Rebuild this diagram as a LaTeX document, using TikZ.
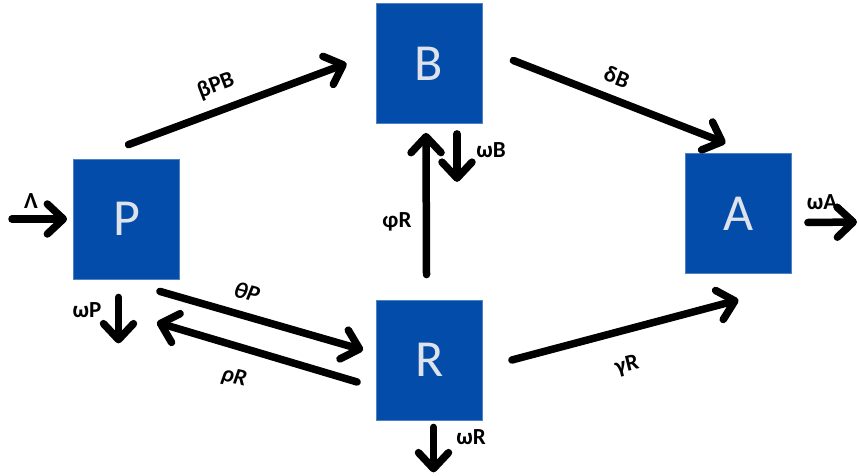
\documentclass[tikz,border=0pt]{standalone}
\usepackage{fontspec}
\setmainfont{Carlito}
\usetikzlibrary{arrows.meta,calc}
\definecolor{boxblue}{RGB}{4,76,170}
\definecolor{boxtext}{RGB}{222,226,234}
\tikzset{
  compartment/.style={rectangle, fill=boxblue, draw=boxblue!70!white, line width=0.8pt,
    minimum width=106pt, minimum height=120pt, inner sep=0pt,
    text=boxtext, font=\fontsize{52}{52}\selectfont},
  flow/.style={line width=7.5pt, line cap=round,
    -{Straight Barb[round, length=16pt, width=30pt]}},
  rate/.style={inner sep=0pt, font=\bfseries\fontsize{23}{23}\selectfont},
}
\begin{document}
\begin{tikzpicture}[x=1pt, y=-1pt]
  \useasboundingbox (0,0) rectangle (859,476);

  % compartments
  \node[compartment] (P) at (126.5,219) {P};
  \node[compartment] (B) at (429,63.5) {B};
  \node[compartment] (R) at (429.5,360) {R};
  \node[compartment] (A) at (738.5,213.5) {A};

  % inflow and outflow end points
  \coordinate (in) at (12,219);
  \coordinate (outA) at (857,222);

  % transfers between compartments
  \draw[flow] (in) -- ($(P.west)+(-6,0)$);
  \draw[flow] ($(P.north)+(2,-14)$) -- ($(B.west)+(-29,0)$);
  \draw[flow] ($(B.east)+(31,-3)$) -- ($(A.north)+(-13,-10)$);
  \draw[flow] ($(A.east)+(16,9)$) -- (outA);
  \draw[flow] ($(P.south east)+(-20,12)$) -- ($(R.west)+(-13,-10)$);
  \draw[flow] ($(R.west)+(-19,22)$) -- ($(P.south east)+(-23,43)$);
  \draw[flow] ($(P.south)+(-8,18)$) -- ($(P.south)+(-8,64)$);
  \draw[flow] ($(R.north)+(-3,-25)$) -- ($(B.south)+(-3,9)$);
  \draw[flow] ($(B.south)+(28,10)$) -- ($(B.south)+(28,58)$);
  \draw[flow] ($(R.east)+(29,0)$) -- ($(A.south)+(0,26)$);
  \draw[flow] ($(R.south)+(4,7)$) -- ($(R.south)+(4,52)$);

  % rate labels
  \node[rate] (lLam) at (31,201) {Λ};
  \node[rate, rotate=21] (lbeta) at (216,86) {βPB};
  \node[rate, rotate=-21] (ldelta) at (617,77) {δB};
  \node[rate] (lwA) at (822,202) {ωA};
  \node[rate] (lwB) at (491,150) {ωB};
  \node[rate] (lphi) at (397,222) {φR};
  \node[rate] (lwP) at (87,310) {ωP};
  \node[rate, rotate=-15] (ltheta) at (247,292) {\itshape θP};
  \node[rate, rotate=-12] (lrho) at (234,378) {\itshape ρR};
  \node[rate, rotate=14] (lgamma) at (627,366) {γR};
  \node[rate] (lwR) at (471,437) {ωR};
\end{tikzpicture}
\end{document}
